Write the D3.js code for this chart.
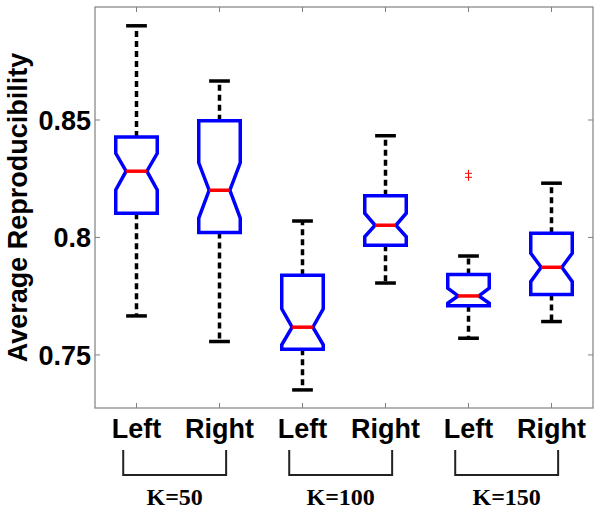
<!DOCTYPE html>
<html>
<head>
<meta charset="utf-8">
<script src="https://cdn.jsdelivr.net/npm/d3@7"></script>
<style>
  body { margin: 0; background: #fff; }
  svg { display: block; }
</style>
</head>
<body>
<script>
const width = 602;
const height = 514;

// data
const groups = ['K=50', 'K=100', 'K=150'];
const sides = ['Left', 'Right', 'Left', 'Right', 'Left', 'Right'];
const whiskerHi = [0.8901, 0.8666, 0.8070, 0.8433, 0.7921, 0.8231];
const q3 = [0.8428, 0.8497, 0.7839, 0.8177, 0.7842, 0.8018];
const notchHi = [0.8358, 0.8318, 0.7696, 0.8103, 0.7784, 0.7933];
const median = [0.8282, 0.8201, 0.7618, 0.8052, 0.7751, 0.7873];
const notchLo = [0.8202, 0.8082, 0.7543, 0.8003, 0.7720, 0.7812];
const q1 = [0.8103, 0.8021, 0.7524, 0.7967, 0.7709, 0.7757];
const whiskerLo = [0.7666, 0.7557, 0.7351, 0.7806, 0.7571, 0.7642];
const outliers = [[], [], [], [], [0.8273, 0.8256], []];
const yTicks = [0.75, 0.8, 0.85];

const boxes = sides.map((s, i) => ({
  pos: i + 1, hi: whiskerHi[i], q3: q3[i], nHi: notchHi[i], med: median[i],
  nLo: notchLo[i], q1: q1[i], lo: whiskerLo[i], out: outliers[i]
}));

const margin = { left: 95, right: 9, top: 7, bottom: 106 };
const x = d3.scaleLinear().domain([0.5, 6.5]).range([margin.left, width - margin.right]);
const y = d3.scaleLinear().domain([0.7274, 0.8981]).range([height - margin.bottom, margin.top]);

const svg = d3.select('body').append('svg')
  .attr('width', width)
  .attr('height', height);

const sans = 'Liberation Sans, Arial, Helvetica, sans-serif';
const axisColor = '#808080';
const labelSize = 27;

// frame + ticks (MATLAB box on, ticks inward)
const x0 = x.range()[0], x1 = x.range()[1], y0 = y.range()[0], y1 = y.range()[1];
svg.append('rect')
  .attr('x', x0).attr('y', y1)
  .attr('width', x1 - x0).attr('height', y0 - y1)
  .attr('fill', 'none').attr('stroke', axisColor).attr('stroke-width', 1.2);

const tickLen = 5;
svg.selectAll('.ytick')
  .data(yTicks)
  .join('g')
    .attr('class', 'ytick')
    .each(function (d) {
      const g = d3.select(this);
      g.append('line').attr('x1', x0).attr('x2', x0 + tickLen).attr('y1', y(d)).attr('y2', y(d))
        .attr('stroke', axisColor);
      g.append('line').attr('x1', x1).attr('x2', x1 - tickLen).attr('y1', y(d)).attr('y2', y(d))
        .attr('stroke', axisColor);
      g.append('text')
        .attr('x', x0 - 4).attr('y', y(d)).attr('dy', '0.36em')
        .attr('text-anchor', 'end')
        .attr('font-family', sans).attr('font-weight', 'bold').attr('font-size', labelSize)
        .text(d3.format('')(d));
    });

svg.selectAll('.xtick')
  .data(boxes)
  .join('g')
    .attr('class', 'xtick')
    .each(function (d, i) {
      const g = d3.select(this);
      g.append('line').attr('x1', x(d.pos)).attr('x2', x(d.pos)).attr('y1', y0).attr('y2', y0 - tickLen)
        .attr('stroke', axisColor);
      g.append('line').attr('x1', x(d.pos)).attr('x2', x(d.pos)).attr('y1', y1).attr('y2', y1 + tickLen)
        .attr('stroke', axisColor);
      g.append('text')
        .attr('x', x(d.pos)).attr('y', y0 + 30)
        .attr('text-anchor', 'middle')
        .attr('font-family', sans).attr('font-weight', 'bold').attr('font-size', labelSize)
        .text(sides[i]);
    });

// y label
svg.append('text')
  .attr('transform', `translate(27,${(y0 + y1) / 2}) rotate(-90)`)
  .attr('text-anchor', 'middle')
  .attr('font-family', sans).attr('font-weight', 'bold').attr('font-size', labelSize)
  .text('Average Reproducibility');

// boxes
const halfW = 0.25, notchW = 0.125, capW = 0.125;
const box = svg.selectAll('.box')
  .data(boxes)
  .join('g')
    .attr('class', 'box');

// whiskers
box.append('line')
  .attr('x1', d => x(d.pos)).attr('x2', d => x(d.pos))
  .attr('y1', d => y(d.q3)).attr('y2', d => y(d.hi))
  .attr('stroke', '#000').attr('stroke-width', 3.5).attr('stroke-dasharray', '6,4');
box.append('line')
  .attr('x1', d => x(d.pos)).attr('x2', d => x(d.pos))
  .attr('y1', d => y(d.q1)).attr('y2', d => y(d.lo))
  .attr('stroke', '#000').attr('stroke-width', 3.5).attr('stroke-dasharray', '6,4');
// caps
box.append('line')
  .attr('x1', d => x(d.pos - capW)).attr('x2', d => x(d.pos + capW))
  .attr('y1', d => y(d.hi)).attr('y2', d => y(d.hi))
  .attr('stroke', '#000').attr('stroke-width', 3.5);
box.append('line')
  .attr('x1', d => x(d.pos - capW)).attr('x2', d => x(d.pos + capW))
  .attr('y1', d => y(d.lo)).attr('y2', d => y(d.lo))
  .attr('stroke', '#000').attr('stroke-width', 3.5);

// notched box outline
box.append('path')
  .attr('d', d => {
    const pts = [
      [d.pos - halfW, d.q3], [d.pos + halfW, d.q3], [d.pos + halfW, d.nHi],
      [d.pos + notchW, d.med], [d.pos + halfW, d.nLo], [d.pos + halfW, d.q1],
      [d.pos - halfW, d.q1], [d.pos - halfW, d.nLo], [d.pos - notchW, d.med],
      [d.pos - halfW, d.nHi]
    ];
    return d3.line().x(p => x(p[0])).y(p => y(p[1]))(pts) + 'Z';
  })
  .attr('fill', 'none').attr('stroke', '#0000ff').attr('stroke-width', 3.5)
  .attr('stroke-linejoin', 'miter');

// median
box.append('line')
  .attr('x1', d => x(d.pos - notchW)).attr('x2', d => x(d.pos + notchW))
  .attr('y1', d => y(d.med)).attr('y2', d => y(d.med))
  .attr('stroke', '#ff0000').attr('stroke-width', 3.5);

// outliers
box.selectAll('.out')
  .data(d => d.out.map(v => ({ pos: d.pos, v })))
  .join('path')
    .attr('class', 'out')
    .attr('d', d => `M${x(d.pos) - 3.5},${y(d.v)}h7M${x(d.pos)},${y(d.v) - 3.5}v7`)
    .attr('stroke', '#ff0000').attr('stroke-width', 1);

// group brackets
const bracketTop = y0 + 42, bracketBottom = y0 + 67;
const brk = svg.selectAll('.bracket')
  .data(groups)
  .join('g')
    .attr('class', 'bracket');
brk.append('path')
  .attr('d', (d, i) => {
    const a = x(2 * i + 1 - 0.16), b = x(2 * i + 2 + 0.08);
    return `M${a},${bracketTop}V${bracketBottom}H${b}V${bracketTop}`;
  })
  .attr('fill', 'none').attr('stroke', '#222').attr('stroke-width', 2);
brk.append('text')
  .attr('x', (d, i) => (x(2 * i + 1 - 0.16) + x(2 * i + 2 + 0.08)) / 2)
  .attr('y', y0 + 97)
  .attr('text-anchor', 'middle')
  .attr('font-family', 'Liberation Serif, Times New Roman, serif')
  .attr('font-weight', 'bold').attr('font-size', 24)
  .text(d => d);
</script>
</body>
</html>
